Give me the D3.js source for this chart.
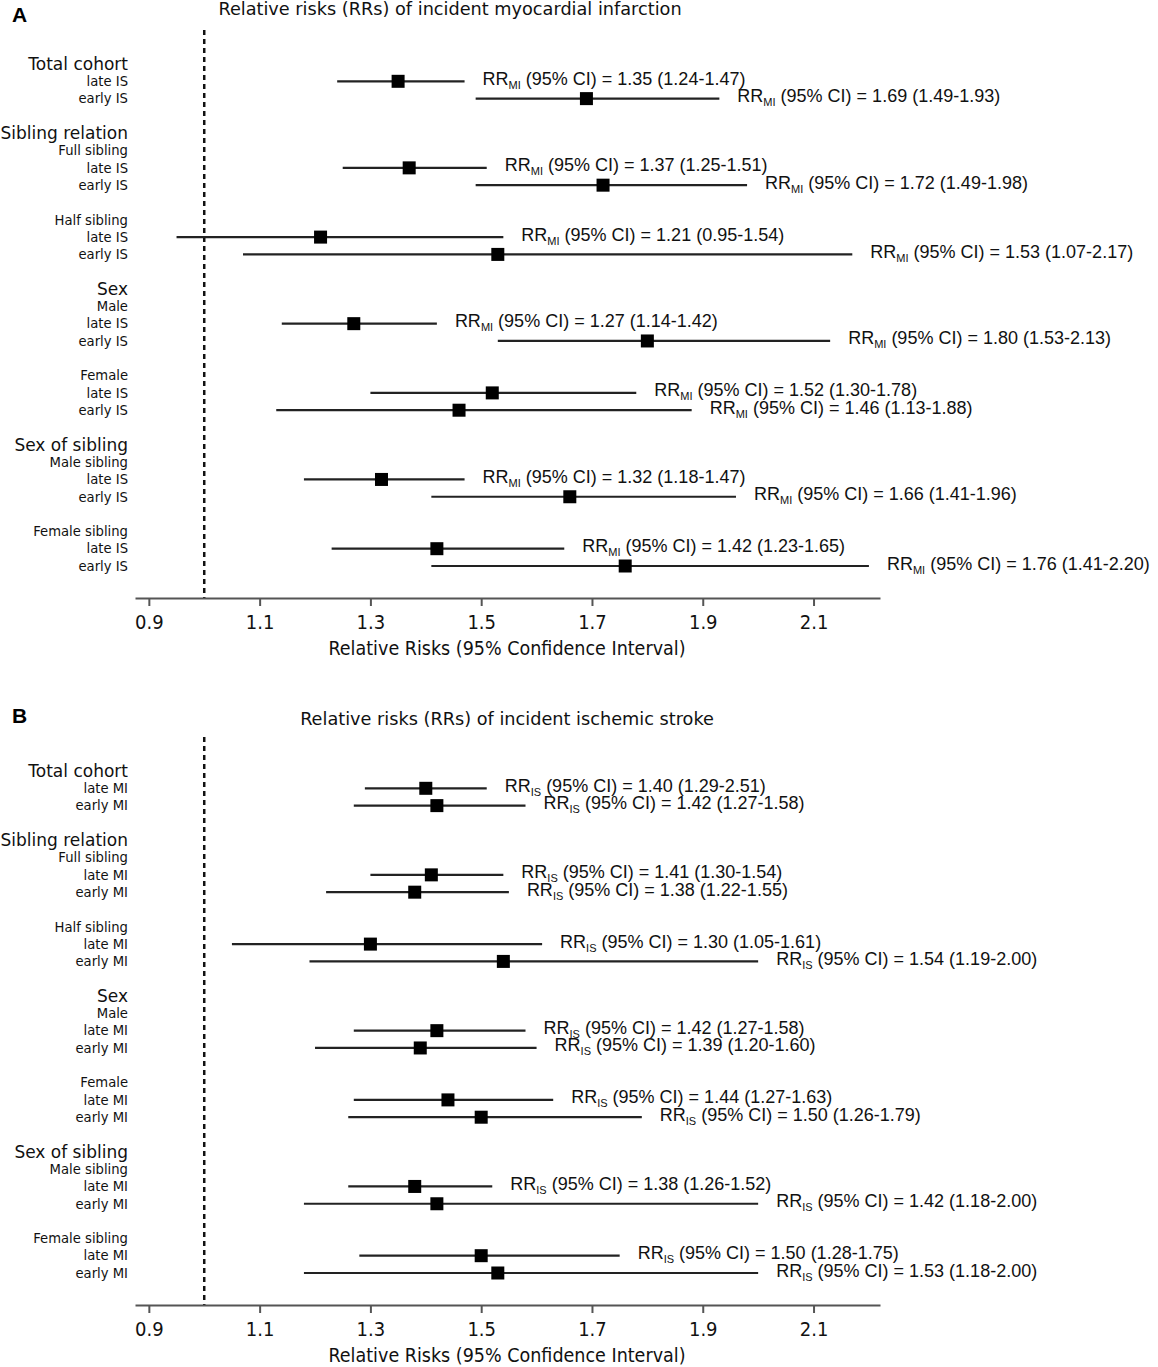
<!DOCTYPE html>
<html>
<head>
<meta charset="utf-8">
<script src="https://cdn.jsdelivr.net/npm/d3@7"></script>
<style>
  body { margin: 0; background: #fff; }
  .lab { font-family: "DejaVu Sans", sans-serif; fill: #111; }
  .rr { font-family: "Liberation Sans", Arial, sans-serif; fill: #111; }
  .ax text { font-family: "DejaVu Sans Condensed", "DejaVu Sans", sans-serif; font-stretch: condensed; font-size: 20px; fill: #111; }
</style>
</head>
<body>
<svg id="fig"></svg>
<script>
// row layout of the left labels (same for both panels), null = blank line
const rowLabels = [
  ['Total cohort', 'h'], ['late', 'i'], ['early', 'i'], null,
  ['Sibling relation', 'h'], ['Full sibling', 's'], ['late', 'i'], ['early', 'i'], null,
  ['Half sibling', 's'], ['late', 'i'], ['early', 'i'], null,
  ['Sex', 'h'], ['Male', 's'], ['late', 'i'], ['early', 'i'], null,
  ['Female', 's'], ['late', 'i'], ['early', 'i'], null,
  ['Sex of sibling', 'h'], ['Male sibling', 's'], ['late', 'i'], ['early', 'i'], null,
  ['Female sibling', 's'], ['late', 'i'], ['early', 'i']
];
const xTicks = [0.9, 1.1, 1.3, 1.5, 1.7, 1.9, 2.1];

// panel A: RR of incident MI (rows: late / early IS in each group)
const estA = [1.35, 1.69, 1.37, 1.72, 1.21, 1.53, 1.27, 1.80, 1.52, 1.46, 1.32, 1.66, 1.42, 1.76];
const loA  = [1.24, 1.49, 1.25, 1.49, 0.95, 1.07, 1.14, 1.53, 1.30, 1.13, 1.18, 1.41, 1.23, 1.41];
const hiA  = [1.47, 1.93, 1.51, 1.98, 1.54, 2.17, 1.42, 2.13, 1.78, 1.88, 1.47, 1.96, 1.65, 2.20];
const printedHiA = hiA;

// panel B: RR of incident IS (rows: late / early MI in each group)
const estB = [1.40, 1.42, 1.41, 1.38, 1.30, 1.54, 1.42, 1.39, 1.44, 1.50, 1.38, 1.42, 1.50, 1.53];
const loB  = [1.29, 1.27, 1.30, 1.22, 1.05, 1.19, 1.27, 1.20, 1.27, 1.26, 1.26, 1.18, 1.28, 1.18];
const hiB  = [1.51, 1.58, 1.54, 1.55, 1.61, 2.00, 1.58, 1.60, 1.63, 1.79, 1.52, 2.00, 1.75, 2.00];
const printedHiB = [2.51, 1.58, 1.54, 1.55, 1.61, 2.00, 1.58, 1.60, 1.63, 1.79, 1.52, 2.00, 1.75, 2.00];

class ForestPlot {

    constructor( config, data ) {
        this.config = {
            parent: config.parent,
            top: config.top,
            letter: config.letter,
            letterY: config.letterY,
            title: config.title,
            titleX: config.titleX,
            titleY: config.titleY,
            outcome: config.outcome,
            exposure: config.exposure
        }
        this.data = data;
        this.init();
    }

    init() {
        let self = this;
        const t = self.config.top;

        self.g = self.config.parent.append('g');

        self.xscale = d3.scaleLinear()
            .domain([0.875, 2.22])
            .range([135, 880]);

        self.yscale = d3.scaleLinear()
            .domain([0, rowLabels.length - 1])
            .range([t + 64, t + 566]);

        self.axisY = t + 598;

        // map item rows to line index
        self.itemRows = [];
        rowLabels.forEach((r, i) => { if (r && r[1] == 'i') self.itemRows.push(i); });

        self.render();
    }

    render() {
        let self = this;
        const t = self.config.top;
        const x = self.xscale, y = self.yscale;

        self.g.append('text')
            .attr('x', 12).attr('y', self.config.letterY)
            .style('font-family', '"Liberation Sans", Arial, sans-serif')
            .style('font-weight', 'bold')
            .style('font-size', '21px')
            .text(self.config.letter);

        self.g.append('text')
            .attr('class', 'lab')
            .attr('x', self.config.titleX).attr('y', self.config.titleY)
            .attr('text-anchor', 'middle')
            .style('font-size', '17.7px')
            .text(self.config.title);

        // left labels
        rowLabels.forEach((r, i) => {
            if (!r) return;
            const size = r[1] == 'h' ? '17px' : '13.2px';
            self.g.append('text')
                .attr('class', 'lab')
                .attr('x', 128).attr('y', y(i))
                .attr('dy', '0.36em')
                .attr('text-anchor', 'end')
                .style('font-size', size)
                .text(r[1] == 'i' ? r[0] + ' ' + self.config.exposure : r[0]);
        });

        // reference line at RR = 1
        self.g.append('line')
            .attr('x1', x(1)).attr('x2', x(1))
            .attr('y1', t + 30).attr('y2', self.axisY)
            .attr('stroke', '#111')
            .attr('stroke-width', 2.5)
            .attr('stroke-dasharray', '5,4');

        // axis
        const axis = d3.axisBottom(x)
            .tickValues(xTicks)
            .tickFormat(d3.format('.1f'))
            .tickSize(8)
            .tickSizeOuter(0)
            .tickPadding(9);
        const ag = self.g.append('g')
            .attr('class', 'ax')
            .attr('transform', `translate(0, ${self.axisY})`)
            .call(axis);
        ag.select('.domain').attr('stroke', '#555').attr('stroke-width', 2);
        ag.selectAll('.tick line').attr('stroke', '#555').attr('stroke-width', 2);

        self.g.append('text')
            .attr('x', 507).attr('y', self.axisY + 57)
            .attr('text-anchor', 'middle')
            .style('font-family', '"DejaVu Sans Condensed", "DejaVu Sans", sans-serif')
            .style('font-stretch', 'condensed')
            .style('font-size', '19.5px')
            .style('fill', '#111')
            .text('Relative Risks (95% Confidence Interval)');

        const d = self.data;
        const rows = d.est.map((e, k) => ({ est: e, lo: d.lo[k], hi: d.hi[k], phi: d.phi[k], row: self.itemRows[k] }));

        self.g.selectAll('.ci')
            .data(rows)
            .join('line')
            .attr('x1', r => x(r.lo)).attr('x2', r => x(r.hi))
            .attr('y1', r => y(r.row)).attr('y2', r => y(r.row))
            .attr('stroke', '#222')
            .attr('stroke-width', 2.2);

        const sq = 13;
        self.g.selectAll('.pt')
            .data(rows)
            .join('rect')
            .attr('x', r => x(r.est) - sq / 2)
            .attr('y', r => y(r.row) - sq / 2)
            .attr('width', sq).attr('height', sq)
            .attr('fill', '#000');

        const f = d3.format('.2f');
        const lbl = self.g.selectAll('.rrl')
            .data(rows)
            .join('text')
            .attr('class', 'rr')
            .attr('x', r => x(r.hi) + 18)
            .attr('y', r => y(r.row) + 3.5)
            .style('font-size', '18px');
        lbl.append('tspan').text('RR');
        lbl.append('tspan').attr('dy', 4).style('font-size', '11px').text(self.config.outcome);
        lbl.append('tspan').attr('dy', -4).text(r => ` (95% CI) = ${f(r.est)} (${f(r.lo)}-${f(r.phi)})`);
    }
}

const svg = d3.select('#fig')
    .attr('width', 1158)
    .attr('height', 1367);

svg.append('rect').attr('width', 1158).attr('height', 1367).attr('fill', '#fff');

new ForestPlot({
    parent: svg, top: 0, letter: 'A', letterY: 22, titleX: 450, titleY: 15, outcome: 'MI', exposure: 'IS',
    title: 'Relative risks (RRs) of incident myocardial infarction'
}, { est: estA, lo: loA, hi: hiA, phi: printedHiA });

new ForestPlot({
    parent: svg, top: 707, letter: 'B', letterY: 723, titleX: 507, titleY: 725, outcome: 'IS', exposure: 'MI',
    title: 'Relative risks (RRs) of incident ischemic stroke'
}, { est: estB, lo: loB, hi: hiB, phi: printedHiB });
</script>
</body>
</html>
